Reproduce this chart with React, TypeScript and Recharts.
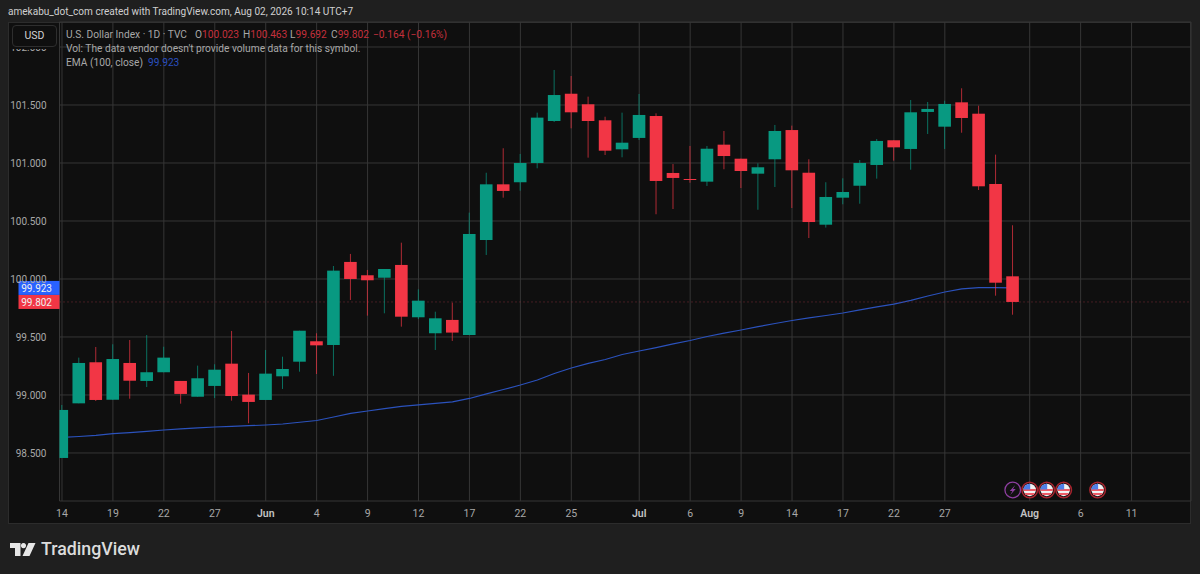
import { Bar, CartesianGrid, ComposedChart, Line, ReferenceDot, ReferenceLine, XAxis, YAxis } from 'recharts'

const UP = '#089981'
const DOWN = '#f23645'
const FONT = 'Roboto, sans-serif'
const PLOT_LEFT = 59.5

const slots = [
  'May 14', 'May 15', 'May 18', 'May 19', 'May 20', 'May 21', 'May 22', 'May 25', 'May 26', 'May 27', 'May 28', 'May 29',
  'Jun 1', 'Jun 2', 'Jun 3', 'Jun 4', 'Jun 5', 'Jun 8', 'Jun 9', 'Jun 10', 'Jun 11', 'Jun 12', 'Jun 15', 'Jun 16', 'Jun 17',
  'Jun 18', 'Jun 19', 'Jun 22', 'Jun 23', 'Jun 24', 'Jun 25', 'Jun 26', 'Jun 29', 'Jun 30',
  'Jul 1', 'Jul 2', 'Jul 3', 'Jul 6', 'Jul 7', 'Jul 8', 'Jul 9', 'Jul 10', 'Jul 13', 'Jul 14', 'Jul 15', 'Jul 16', 'Jul 17',
  'Jul 20', 'Jul 21', 'Jul 22', 'Jul 23', 'Jul 24', 'Jul 27', 'Jul 28', 'Jul 29', 'Jul 30', 'Jul 31',
  'Aug 3', 'Aug 4', 'Aug 5', 'Aug 6', 'Aug 7', 'Aug 10', 'Aug 11', 'Aug 12', 'Aug 13', 'Aug 14',
]

const opens = [
  98.457, 98.928, 99.282, 98.959, 99.276, 99.121, 99.196, 99.121, 98.985, 99.078, 99.27, 99.003, 98.957, 99.161, 99.287,
  99.463, 99.431, 100.147, 100.032, 100.011, 100.121, 99.67, 99.532, 99.647, 99.517, 100.336, 100.816, 100.834, 101.0,
  101.362, 101.597, 101.506, 101.368, 101.118, 101.216, 101.405, 100.914, 100.862, 100.839, 101.158, 101.037, 100.908,
  101.032, 101.284, 100.916, 100.468, 100.701, 100.804, 100.983, 101.196, 101.121, 101.44, 101.313, 101.523, 101.425,
  100.819, 100.023,
]
const closes = [
  98.871, 99.276, 98.957, 99.31, 99.123, 99.196, 99.322, 99.009, 99.144, 99.218, 98.991, 98.94, 99.184, 99.224, 99.554,
  99.428, 100.072, 100.0, 99.989, 100.086, 99.675, 99.813, 99.661, 99.538, 100.388, 100.816, 100.759, 101.0, 101.391,
  101.586, 101.437, 101.362, 101.106, 101.175, 101.414, 100.845, 100.871, 100.856, 101.123, 101.06, 100.931, 100.963,
  101.276, 100.937, 100.491, 100.707, 100.75, 101.0, 101.19, 101.135, 101.437, 101.466, 101.509, 101.388, 100.799,
  99.968, 99.802,
]
const highs = [
  98.914, 99.322, 99.414, 99.437, 99.474, 99.517, 99.416, 99.121, 99.253, 99.265, 99.552, 99.19, 99.388, 99.33, 99.554,
  99.532, 100.112, 100.216, 100.078, 100.086, 100.313, 99.911, 99.718, 99.796, 100.572, 100.916, 101.127, 101.078, 101.434,
  101.802, 101.75, 101.572, 101.399, 101.434, 101.595, 101.428, 100.991, 101.147, 101.147, 101.276, 101.037, 100.997,
  101.328, 101.322, 101.032, 100.834, 100.868, 101.026, 101.207, 101.196, 101.543, 101.526, 101.537, 101.644, 101.494,
  101.072, 100.463,
]
const lows = [
  98.457, 98.928, 98.948, 98.959, 98.968, 99.069, 99.196, 98.925, 98.985, 98.974, 98.951, 98.756, 98.957, 99.052, 99.201,
  99.181, 99.165, 99.819, 99.684, 99.704, 99.589, 99.655, 99.388, 99.466, 99.517, 100.207, 100.701, 100.761, 100.954,
  101.353, 101.299, 101.046, 101.069, 101.049, 101.198, 100.558, 100.603, 100.83, 100.802, 100.946, 100.784, 100.597,
  100.793, 100.612, 100.353, 100.443, 100.644, 100.649, 100.865, 101.02, 100.942, 101.25, 101.121, 101.261, 100.767,
  99.856, 99.692,
]
const ema = [
  98.634, 98.642, 98.652, 98.666, 98.675, 98.687, 98.698, 98.707, 98.716, 98.724, 98.73, 98.735, 98.741, 98.75, 98.765,
  98.78, 98.81, 98.841, 98.862, 98.882, 98.901, 98.914, 98.927, 98.94, 98.97, 99.009, 99.047, 99.086, 99.129, 99.185,
  99.233, 99.272, 99.306, 99.349, 99.379, 99.409, 99.44, 99.47, 99.504, 99.534, 99.56, 99.589, 99.616, 99.642, 99.664,
  99.685, 99.707, 99.733, 99.759, 99.784, 99.815, 99.853, 99.888, 99.914, 99.925, 99.925, 99.923,
]

const priceTicks = [98.5, 99, 99.5, 100, 100.5, 101, 101.5, 102]
const dateTicks = [
  'May 14', 'May 19', 'May 22', 'May 27', 'Jun 1', 'Jun 4', 'Jun 9', 'Jun 12', 'Jun 17', 'Jun 22', 'Jun 25', 'Jul 1', 'Jul 6',
  'Jul 9', 'Jul 14', 'Jul 17', 'Jul 22', 'Jul 27', 'Aug 3', 'Aug 6', 'Aug 11',
]
const monthStarts: Record<string, string> = { 'Jun 1': 'Jun', 'Jul 1': 'Jul', 'Aug 3': 'Aug' }
const flagDates = ['Aug 3', 'Aug 4', 'Aug 5', 'Aug 7']
const boltDate = 'Jul 31'
const eventPrice = 98.181

const rows = slots.map((date, i) => ({
  date,
  open: opens[i],
  close: closes[i],
  high: highs[i],
  low: lows[i],
  range: highs[i] !== undefined ? [lows[i], highs[i]] : undefined,
  ema: ema[i],
}))

// bar covers low..high, so the body is placed from the same pixels per unit
function Candle(props: any) {
  const { x, y, width, height, payload } = props
  if (!payload || payload.open === undefined) return null
  const perUnit = height / (payload.high - payload.low)
  const top = y + (payload.high - Math.max(payload.open, payload.close)) * perUnit
  const bodyH = Math.max(Math.abs(payload.open - payload.close) * perUnit, 1)
  const color = payload.close >= payload.open ? UP : DOWN
  const mid = x + width / 2
  // first candle is cut by the price scale
  const left = Math.max(x, PLOT_LEFT)
  return (
    <g>
      <line x1={mid} x2={mid} y1={y} y2={y + height} stroke={color} strokeWidth={1} strokeOpacity={0.7} />
      <rect x={left} y={top} width={x + width - left} height={bodyH} fill={color} />
    </g>
  )
}

function PriceTag({ viewBox, value, color }: any) {
  return (
    <g>
      <rect x={viewBox.x - 41} y={viewBox.y - 7} width={41} height={14} fill={color} />
      <text x={viewBox.x - 7.5} y={viewBox.y + 3.6} textAnchor="end" fontSize={10} fontFamily={FONT} fill="#f0f0f0">
        {value}
      </text>
    </g>
  )
}

function FlagIcon({ cx, cy, index }: any) {
  const id = 'flag' + index
  return (
    <g>
      <clipPath id={id}>
        <circle cx={cx} cy={cy} r={6.2} />
      </clipPath>
      <circle cx={cx} cy={cy} r={7.8} fill="#111" stroke="#a8242e" strokeWidth={1.5} />
      <g clipPath={`url(#${id})`}>
        <rect x={cx - 7} y={cy - 7} width={14} height={14} fill="#f2f2f2" />
        <rect x={cx - 7} y={cy - 1} width={14} height={2} fill="#ef5a64" />
        <rect x={cx - 7} y={cy + 3} width={14} height={2} fill="#ef5a64" />
        <rect x={cx - 7} y={cy - 7} width={7.5} height={6.5} fill="#4f7fe8" />
      </g>
    </g>
  )
}

function BoltIcon({ cx, cy }: any) {
  return (
    <g>
      <circle cx={cx} cy={cy} r={7.8} fill="#111" stroke="#8e3fa0" strokeWidth={1.3} />
      <path
        d={`M${cx + 2.5} ${cy - 5} L${cx - 3} ${cy + 1} L${cx - 0.3} ${cy + 1} L${cx - 2.5} ${cy + 5} L${cx + 3} ${cy - 1} L${cx + 0.3} ${cy - 1} Z`}
        fill="#8e3fa0"
      />
    </g>
  )
}

function DateTick({ x, y, payload }: any) {
  const month = monthStarts[payload.value]
  const label = month || payload.value.split(' ')[1]
  return (
    <text x={x} y={y + 2} textAnchor="middle" fontSize={10.5} fontFamily={FONT} fill={month ? '#c4c4c4' : '#a8a8a8'} fontWeight={month ? 600 : 400}>
      {label}
    </text>
  )
}

function Quote({ left, letter, value }: { left: number; letter: string; value: string }) {
  return (
    <span style={{ position: 'absolute', left, top: 0 }}>
      {letter}
      <span style={{ color: '#c4303c' }}>{value}</span>
    </span>
  )
}

export default function App() {
  return (
    <div style={{ position: 'absolute', left: 0, top: 0, width: 1200, height: 574, background: '#1f1f1f', overflow: 'hidden', fontFamily: FONT }}>
      <div style={{ position: 'absolute', left: 8, top: 6, fontSize: 10.05, color: '#cfcfcf', whiteSpace: 'nowrap' }}>
        amekabu_dot_com created with TradingView.com, Aug 02, 2026 10:14 UTC+7
      </div>
      <div style={{ position: 'absolute', left: 8, top: 22, width: 1183, height: 502, background: '#0f0f0f', border: '1px solid #2c2c2c', boxSizing: 'border-box' }} />

      <div style={{ position: 'absolute', left: 0, top: 0 }}>
        <ComposedChart width={1200} height={574} data={rows} margin={{ top: 22, right: 9, bottom: 50, left: 0 }} barSize={12.6}>
          <CartesianGrid stroke="#363636" strokeWidth={1} />
          <XAxis
            dataKey="date"
            ticks={dateTicks}
            interval={0}
            padding={{ left: -6, right: 0 }}
            allowDataOverflow
            height={23}
            axisLine={false}
            tickLine={false}
            tick={<DateTick />}
            tickMargin={8}
          />
          <YAxis
            width={59.5}
            domain={[98.086, 102.2155]}
            ticks={priceTicks}
            allowDataOverflow
            axisLine={false}
            tickLine={false}
            tickMargin={7}
            tick={{ fontSize: 10, fontFamily: FONT, fill: '#a8a8a8' }}
            tickFormatter={(v: number) => v.toFixed(3)}
          />
          <Line dataKey="ema" stroke="#2b52bd" strokeWidth={1.2} dot={false} isAnimationActive={false} />
          <Bar dataKey="range" shape={<Candle />} isAnimationActive={false} zIndex={500} />
          <ReferenceLine y={99.802} stroke="#7d2f38" strokeDasharray="1 3" label={<PriceTag value="99.802" color={DOWN} />} />
          <ReferenceLine y={99.923} stroke="none" label={<PriceTag value="99.923" color="#2962ff" />} />
          <ReferenceDot x={boltDate} y={eventPrice} shape={<BoltIcon />} />
          {flagDates.map((d, i) => (
            <ReferenceDot key={d} x={d} y={eventPrice} shape={<FlagIcon index={i} />} />
          ))}
        </ComposedChart>
      </div>

      <div style={{ position: 'absolute', left: 9, top: 23, width: 50, height: 26, background: '#0f0f0f' }} />
      <div style={{ position: 'absolute', left: 12, top: 25, width: 45, height: 22, boxSizing: 'border-box', border: '1px solid #2e2e2e', borderRadius: 4, color: '#d2d2d2', fontSize: 10.5, textAlign: 'center', lineHeight: '20px' }}>
        USD
      </div>
      <div style={{ position: 'absolute', left: 66, top: 28, fontSize: 10.2, lineHeight: '14px', color: '#a8a8a8', whiteSpace: 'pre' }}>
        <div style={{ position: 'relative', height: 14 }}>
          U.S. Dollar Index · 1D · TVC
          <Quote left={129} letter="O" value="100.023" />
          <Quote left={177} letter="H" value="100.463" />
          <Quote left={224} letter="L" value="99.692" />
          <Quote left={265} letter="C" value="99.802" />
          <Quote left={307} letter="" value="−0.164 (−0.16%)" />
        </div>
        <div>Vol: The data vendor doesn't provide volume data for this symbol.</div>
        <div>
          {'EMA (100, close)  '}
          <span style={{ color: '#2a50c0' }}>99.923</span>
        </div>
      </div>

      <svg style={{ position: 'absolute', left: 10, top: 543 }} width={26} height={13} viewBox="0 0 26 13">
        <path d="M0 0H10.5V13H5V5H0Z M13.5 0A2.6 2.6 0 1 1 13.49 0Z M18.5 0H25.5L19.5 13H12.5Z" fill="#e6e6e6" />
      </svg>
      <div style={{ position: 'absolute', left: 41, top: 537, fontSize: 17.8, fontWeight: 500, color: '#dcdcdc', lineHeight: '24px' }}>
        TradingView
      </div>
    </div>
  )
}
